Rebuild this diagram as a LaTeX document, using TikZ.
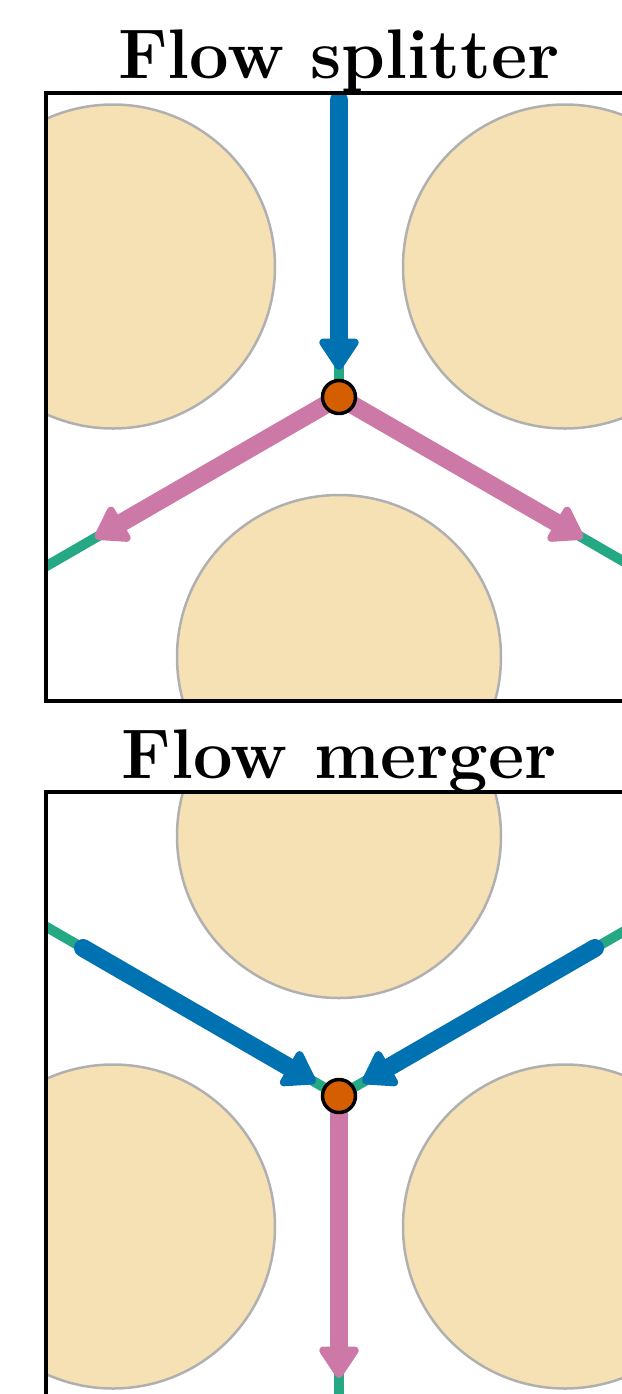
\documentclass[tikz,border=0pt]{standalone}
\usetikzlibrary{arrows.meta}

\definecolor{inflow}{HTML}{0072B2}
\definecolor{outflow}{HTML}{CC79A7}
\definecolor{poregreen}{HTML}{25A884}
\definecolor{junctionfill}{HTML}{D55E00}
\definecolor{grainfill}{HTML}{F6E1B4}
\definecolor{grainedge}{HTML}{B0B0B0}

\begin{document}
\begin{tikzpicture}[x=0.02cm, y=-0.02cm, line cap=round, line join=round,
    grain/.style={fill=grainfill, draw=grainedge, line width=0.05cm},
    pore/.style={draw=poregreen, line width=0.2cm, line cap=butt},
    flowin/.style={draw=inflow, line width=0.36cm,
        -{Triangle[width=0.88cm, length=0.7cm, line width=0.16cm, round]}},
    flowout/.style={draw=outflow, line width=0.36cm,
        -{Triangle[width=0.88cm, length=0.7cm, line width=0.16cm, round]}},
    junction/.style={circle, fill=junctionfill, draw=black, line width=0.07cm,
        minimum size=0.66cm, inner sep=0pt},
    frame/.style={draw=black, line width=0.08cm, line join=miter, line cap=butt},
    paneltitle/.style={font=\fontsize{40}{48}\selectfont\bfseries, anchor=base, inner sep=0pt}]

\useasboundingbox (0,0) rectangle (622,1394);
\clip (0,0) rectangle (622,1394);

% Titles
\node[paneltitle] (splittertitle) at (339,78) {Flow splitter};
\node[paneltitle] (mergertitle) at (339,778) {Flow merger};

% Flow splitter panel
\begin{scope}[shift={(339,397)}]
  \begin{scope}
    \clip (-293,-304) rectangle (293,304);
    \draw[grain] (-226,-130.5) circle (162);
    \draw[grain] (226,-130.5) circle (162);
    \draw[grain] (0,260) circle (162);
    \coordinate (splitc) at (0,0);
    \coordinate (splitup) at (0,-400);
    \coordinate (splitleft) at (-346,200);
    \coordinate (splitright) at (346,200);
    \draw[pore] (splitc) -- (splitup);
    \draw[pore] (splitc) -- (splitleft);
    \draw[pore] (splitc) -- (splitright);
  \end{scope}
  \coordinate (splitsrc) at (0,-297);
  \coordinate (splitin) at (0,-27);
  \coordinate (splitoutL) at (-244,141);
  \coordinate (splitoutR) at (244,141);
  \draw[flowin] (splitsrc) -- (splitin);
  \draw[flowout] (splitc) -- (splitoutL);
  \draw[flowout] (splitc) -- (splitoutR);
  \node[junction] (splitnode) at (splitc) {};
  \draw[frame] (-293,-304) rectangle (293,304);
\end{scope}

% Flow merger panel
\begin{scope}[shift={(339,1096)}]
  \begin{scope}
    \clip (-293,-304) rectangle (293,304);
    \draw[grain] (0,-260) circle (162);
    \draw[grain] (-226,130.5) circle (162);
    \draw[grain] (226,130.5) circle (162);
    \coordinate (mergec) at (0,0);
    \coordinate (mergedown) at (0,400);
    \coordinate (mergeleft) at (-346,-200);
    \coordinate (mergeright) at (346,-200);
    \draw[pore] (mergec) -- (mergedown);
    \draw[pore] (mergec) -- (mergeleft);
    \draw[pore] (mergec) -- (mergeright);
  \end{scope}
  \coordinate (mergesrcL) at (-256,-148);
  \coordinate (mergesrcR) at (256,-148);
  \coordinate (mergeinL) at (-23.5,-13.5);
  \coordinate (mergeinR) at (23.5,-13.5);
  \coordinate (mergeout) at (0,282);
  \draw[flowin] (mergesrcL) -- (mergeinL);
  \draw[flowin] (mergesrcR) -- (mergeinR);
  \draw[flowout] (mergec) -- (mergeout);
  \node[junction] (mergenode) at (mergec) {};
  \draw[frame] (-293,-304) rectangle (293,304);
\end{scope}

\end{tikzpicture}
\end{document}
